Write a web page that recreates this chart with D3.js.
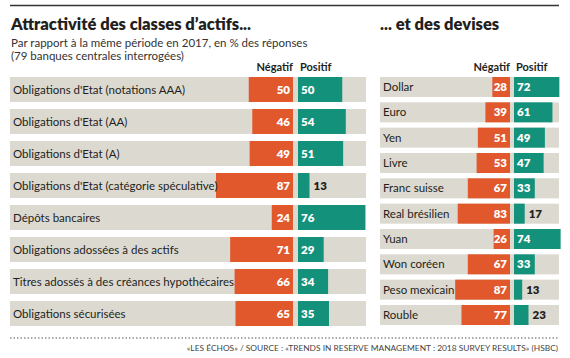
<!DOCTYPE html>
<html><head><meta charset="utf-8">
<script src="https://cdn.jsdelivr.net/npm/d3@7"></script>
<style>body{margin:0;background:#fff}svg{display:block}</style>
</head><body>
<svg id="c" width="570" height="358"></svg>
<script>
const assetCats = ["Obligations d'Etat (notations AAA)","Obligations d'Etat (AA)","Obligations d'Etat (A)","Obligations d'Etat (catégorie spéculative)","Dépôts bancaires","Obligations adossées à des actifs","Titres adossés à des créances hypothécaires","Obligations sécurisées"];
const assetNeg = [50,46,49,87,24,71,66,65];
const assetPos = [50,54,51,13,76,29,34,35];
const curCats = ["Dollar","Euro","Yen","Livre","Franc suisse","Real brésilien","Yuan","Won coréen","Peso mexicain","Rouble"];
const curNeg = [28,39,51,53,67,83,26,67,87,77];
const curPos = [72,61,49,47,33,17,74,33,13,23];
const titleLeft = "Attractivité des classes d’actifs...";
const titleRight = "... et des devises";
const subtitle = ["Par rapport à la même période en 2017, en % des réponses","(79 banques centrales interrogées)"];
const legendLabels = ["Négatif","Positif"];
const footer = "«LES ÉCHOS» / SOURCE : «TRENDS IN RESERVE MANAGEMENT : 2018 SURVEY RESULTS» (HSBC)";

const C = {neg:"#e0582b", pos:"#13917a", bg:"#dcd9d1", text:"#231f20"};
const FONT = "Lato, 'Open Sans', sans-serif";
const svg = d3.select("#c").style("font-family", FONT);

svg.append("line").attr("x1",10).attr("x2",559).attr("y1",5.5).attr("y2",5.5).attr("stroke","#333").attr("stroke-width",1.5);
svg.append("text").attr("x",11).attr("y",30).attr("font-size",16.5).attr("font-weight",800).attr("fill",C.text).text(titleLeft);
svg.append("text").attr("x",380).attr("y",30).attr("font-size",16.5).attr("font-weight",800).attr("fill",C.text).text(titleRight);
subtitle.forEach((s,i)=>svg.append("text").attr("x",11).attr("y",47+i*12.5).attr("font-size",11.5).attr("fill","#333").text(s));

function panel(cfg){
  const g = svg.append("g");
  const y = d3.scaleBand().domain(cfg.cats).range([cfg.top, cfg.bottom]).paddingInner(cfg.pad).paddingOuter(0);
  const xn = d3.scaleLinear().domain([0,100]).range([cfg.mid, cfg.mid - cfg.k*100]);
  const xp = d3.scaleLinear().domain([0,100]).range([cfg.mid + cfg.gap, cfg.mid + cfg.gap + cfg.k*100]);
  g.append("text").attr("x",cfg.mid).attr("y",cfg.top-6).attr("text-anchor","end").attr("font-size",11).attr("font-weight",700).attr("fill",C.text).text(legendLabels[0]);
  g.append("text").attr("x",cfg.mid+cfg.gap+2).attr("y",cfg.top-6).attr("text-anchor","start").attr("font-size",11).attr("font-weight",700).attr("fill",C.text).text(legendLabels[1]);
  const rows = g.selectAll("g.r").data(cfg.cats.map((c,i)=>({c,n:cfg.neg[i],p:cfg.pos[i]}))).join("g").attr("class","r");
  rows.append("rect").attr("x",cfg.left).attr("width",cfg.right-cfg.left).attr("y",d=>y(d.c)).attr("height",y.bandwidth()).attr("fill",C.bg);
  rows.append("rect").attr("x",d=>xn(d.n)).attr("width",d=>xn(0)-xn(d.n)).attr("y",d=>y(d.c)).attr("height",y.bandwidth()).attr("fill",C.neg);
  rows.append("rect").attr("x",xp(0)).attr("width",d=>xp(d.p)-xp(0)).attr("y",d=>y(d.c)).attr("height",y.bandwidth()).attr("fill",C.pos);
  rows.append("text").attr("x",cfg.left+3).attr("y",d=>y(d.c)+y.bandwidth()/2).attr("dy","0.36em").attr("font-size",cfg.fs).attr("fill",C.text).text(d=>d.c);
  rows.append("text").attr("x",xn(0)-3).attr("y",d=>y(d.c)+y.bandwidth()/2).attr("dy","0.36em").attr("text-anchor","end").attr("font-size",11.5).attr("font-weight",800).attr("fill","#fff").text(d=>d.n);
  rows.append("text").attr("x",d=>d.p>=25 ? xp(0)+3 : xp(d.p)+4).attr("y",d=>y(d.c)+y.bandwidth()/2).attr("dy","0.36em").attr("font-size",11.5).attr("font-weight",800).attr("fill",d=>d.p>=25?"#fff":C.text).text(d=>d.p);
}
panel({cats:assetCats,neg:assetNeg,pos:assetPos,top:77,bottom:326,pad:0.22,left:10,right:366,mid:293,gap:5,k:0.885,fs:11.5});
panel({cats:curCats,neg:curNeg,pos:curPos,top:77,bottom:325,pad:0.21,left:380,right:559,mid:510,gap:4,k:0.63,fs:11.5});

svg.append("line").attr("x1",10).attr("x2",559).attr("y1",338).attr("y2",338).attr("stroke","#555").attr("stroke-width",1).attr("stroke-dasharray","1.5,2");
svg.append("text").attr("x",558).attr("y",351).attr("text-anchor","end").attr("font-size",8.4).attr("fill","#444").text(footer);
</script>
</body></html>
